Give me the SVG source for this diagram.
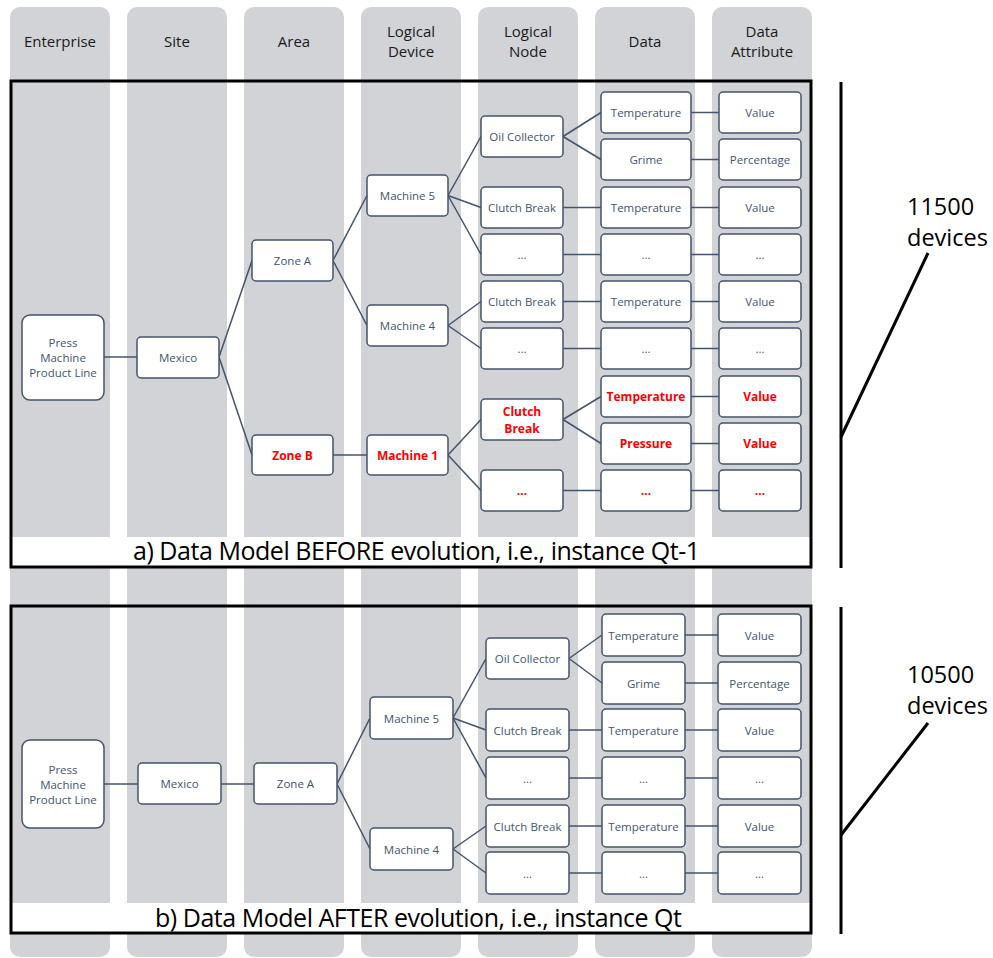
<svg xmlns="http://www.w3.org/2000/svg" width="993" height="958" viewBox="0 0 993 958">
<style>
.lane{fill:#D1D3D7}
.hdr{font-family:"Open Sans","Liberation Sans",sans-serif;font-size:15px;fill:#1a1a1a;text-anchor:middle}
.node rect{fill:#fff;stroke:#44546A;stroke-width:1.5}
.node text{font-family:"Open Sans","Liberation Sans",sans-serif;font-size:11.5px;fill:#44546A;text-anchor:middle;dominant-baseline:central}
.node text.red{fill:#FF0000;font-weight:bold;font-size:12px}
.conn line{stroke:#44546A;stroke-width:1.5}
.frame{fill:none;stroke:#000;stroke-width:3}
.cap{font-family:"Open Sans","Liberation Sans",sans-serif;font-size:25px;fill:#000}
.big{font-family:"Open Sans","Liberation Sans",sans-serif;font-size:23.5px;fill:#000}
.brk{stroke:#000;stroke-width:3;fill:none}
</style>
<rect width="993" height="958" fill="#fff"/>
<g id="lanes">
<rect class="lane" x="10" y="7" width="100" height="950" rx="10"/>
<rect class="lane" x="127" y="7" width="100" height="950" rx="10"/>
<rect class="lane" x="244" y="7" width="100" height="950" rx="10"/>
<rect class="lane" x="361" y="7" width="100" height="950" rx="10"/>
<rect class="lane" x="478" y="7" width="100" height="950" rx="10"/>
<rect class="lane" x="595" y="7" width="100" height="950" rx="10"/>
<rect class="lane" x="712" y="7" width="100" height="950" rx="10"/>
</g>
<g id="headers">
<text class="hdr" x="60" y="47">Enterprise</text>
<text class="hdr" x="177" y="47">Site</text>
<text class="hdr" x="294" y="47">Area</text>
<text class="hdr" x="411" y="37">Logical</text>
<text class="hdr" x="411" y="57">Device</text>
<text class="hdr" x="528" y="37">Logical</text>
<text class="hdr" x="528" y="57">Node</text>
<text class="hdr" x="645" y="47">Data</text>
<text class="hdr" x="762" y="37">Data</text>
<text class="hdr" x="762" y="57">Attribute</text>
</g>
<g id="frameA">
<rect x="12" y="537" width="798" height="29" fill="#fff"/>
<rect class="frame" x="11" y="81" width="800" height="486"/>
<text class="cap" x="133" y="560" textLength="567">a) Data Model BEFORE evolution, i.e., instance Qt-1</text>
</g>
<g id="frameB">
<rect x="12" y="903" width="798" height="29" fill="#fff"/>
<rect class="frame" x="11" y="606" width="800" height="327"/>
<text class="cap" x="155" y="927" textLength="527">b) Data Model AFTER evolution, i.e., instance Qt</text>
</g>
<g id="connectors" class="conn">
<line x1="104" y1="357" x2="137" y2="357"/>
<line x1="219" y1="357" x2="252" y2="260.5"/>
<line x1="219" y1="357" x2="252" y2="455"/>
<line x1="333" y1="260.5" x2="367" y2="195.5"/>
<line x1="333" y1="260.5" x2="367" y2="325.5"/>
<line x1="333" y1="455" x2="367" y2="455"/>
<line x1="448" y1="195.5" x2="481" y2="136.5"/>
<line x1="448" y1="195.5" x2="481" y2="207.5"/>
<line x1="448" y1="195.5" x2="481" y2="254.5"/>
<line x1="448" y1="325.5" x2="481" y2="301.5"/>
<line x1="448" y1="325.5" x2="481" y2="348.5"/>
<line x1="448" y1="455" x2="481" y2="419.5"/>
<line x1="448" y1="455" x2="481" y2="490.5"/>
<line x1="563" y1="136.5" x2="601" y2="112.5"/>
<line x1="563" y1="136.5" x2="601" y2="159.5"/>
<line x1="563" y1="207.5" x2="601" y2="207.5"/>
<line x1="563" y1="254.5" x2="601" y2="254.5"/>
<line x1="563" y1="301.5" x2="601" y2="301.5"/>
<line x1="563" y1="348.5" x2="601" y2="348.5"/>
<line x1="563" y1="419.5" x2="601" y2="396.5"/>
<line x1="563" y1="419.5" x2="601" y2="443.5"/>
<line x1="563" y1="490.5" x2="601" y2="490.5"/>
<line x1="691" y1="112.5" x2="719" y2="112.5"/>
<line x1="691" y1="159.5" x2="719" y2="159.5"/>
<line x1="691" y1="207.5" x2="719" y2="207.5"/>
<line x1="691" y1="254.5" x2="719" y2="254.5"/>
<line x1="691" y1="301.5" x2="719" y2="301.5"/>
<line x1="691" y1="348.5" x2="719" y2="348.5"/>
<line x1="691" y1="396.5" x2="719" y2="396.5"/>
<line x1="691" y1="443.5" x2="719" y2="443.5"/>
<line x1="691" y1="490.5" x2="719" y2="490.5"/>
<line x1="104" y1="784" x2="138" y2="784"/>
<line x1="221" y1="784" x2="254" y2="784"/>
<line x1="337" y1="784" x2="370" y2="718"/>
<line x1="337" y1="784" x2="370" y2="849"/>
<line x1="453" y1="718" x2="486" y2="658.5"/>
<line x1="453" y1="718" x2="486" y2="730"/>
<line x1="453" y1="718" x2="486" y2="778"/>
<line x1="453" y1="849" x2="486" y2="826"/>
<line x1="453" y1="849" x2="486" y2="873"/>
<line x1="569" y1="658.5" x2="602" y2="635"/>
<line x1="569" y1="658.5" x2="602" y2="683"/>
<line x1="569" y1="730" x2="602" y2="730"/>
<line x1="569" y1="778" x2="602" y2="778"/>
<line x1="569" y1="826" x2="602" y2="826"/>
<line x1="569" y1="873" x2="602" y2="873"/>
<line x1="685" y1="635" x2="718" y2="635"/>
<line x1="685" y1="683" x2="718" y2="683"/>
<line x1="685" y1="730" x2="718" y2="730"/>
<line x1="685" y1="778" x2="718" y2="778"/>
<line x1="685" y1="826" x2="718" y2="826"/>
<line x1="685" y1="873" x2="718" y2="873"/>
</g>
<g id="a-press" class="node"><rect x="22" y="315" width="82" height="85" rx="8"/><text x="63" y="342">Press</text><text x="63" y="357">Machine</text><text x="63" y="372">Product Line</text></g>
<g id="a-mexico" class="node"><rect x="137" y="337" width="82" height="41" rx="4"/><text x="178" y="357.5">Mexico</text></g>
<g id="a-zoneA" class="node"><rect x="252" y="240" width="81" height="41" rx="4"/><text x="292.5" y="260.5">Zone A</text></g>
<g id="a-zoneB" class="node"><rect x="252" y="435" width="81" height="40" rx="4"/><text class="red" x="292.5" y="455">Zone B</text></g>
<g id="a-m5" class="node"><rect x="367" y="175" width="81" height="41" rx="4"/><text x="407.5" y="195.5">Machine 5</text></g>
<g id="a-m4" class="node"><rect x="367" y="305" width="81" height="41" rx="4"/><text x="407.5" y="325.5">Machine 4</text></g>
<g id="a-m1" class="node"><rect x="367" y="435" width="81" height="40" rx="4"/><text class="red" x="407.5" y="455">Machine 1</text></g>
<g id="a-ln1" class="node"><rect x="481" y="116" width="82" height="41" rx="4"/><text x="522" y="136.5">Oil Collector</text></g>
<g id="a-ln2" class="node"><rect x="481" y="187" width="82" height="41" rx="4"/><text x="522" y="207.5">Clutch Break</text></g>
<g id="a-ln3" class="node"><rect x="481" y="234" width="82" height="41" rx="4"/><text x="522" y="254.5">...</text></g>
<g id="a-ln4" class="node"><rect x="481" y="281" width="82" height="41" rx="4"/><text x="522" y="301.5">Clutch Break</text></g>
<g id="a-ln5" class="node"><rect x="481" y="328" width="82" height="41" rx="4"/><text x="522" y="348.5">...</text></g>
<g id="a-ln6" class="node"><rect x="481" y="399" width="82" height="41" rx="4"/><text class="red" x="522" y="411">Clutch</text><text class="red" x="522" y="428">Break</text></g>
<g id="a-ln7" class="node"><rect x="481" y="470" width="82" height="41" rx="4"/><text class="red" x="522" y="490.5">...</text></g>
<g id="a-d1" class="node"><rect x="601" y="92" width="90" height="41" rx="4"/><text x="646" y="112.5">Temperature</text></g>
<g id="a-d2" class="node"><rect x="601" y="139" width="90" height="41" rx="4"/><text x="646" y="159.5">Grime</text></g>
<g id="a-d3" class="node"><rect x="601" y="187" width="90" height="41" rx="4"/><text x="646" y="207.5">Temperature</text></g>
<g id="a-d4" class="node"><rect x="601" y="234" width="90" height="41" rx="4"/><text x="646" y="254.5">...</text></g>
<g id="a-d5" class="node"><rect x="601" y="281" width="90" height="41" rx="4"/><text x="646" y="301.5">Temperature</text></g>
<g id="a-d6" class="node"><rect x="601" y="328" width="90" height="41" rx="4"/><text x="646" y="348.5">...</text></g>
<g id="a-d7" class="node"><rect x="601" y="376" width="90" height="41" rx="4"/><text class="red" x="646" y="396.5">Temperature</text></g>
<g id="a-d8" class="node"><rect x="601" y="423" width="90" height="41" rx="4"/><text class="red" x="646" y="443.5">Pressure</text></g>
<g id="a-d9" class="node"><rect x="601" y="470" width="90" height="41" rx="4"/><text class="red" x="646" y="490.5">...</text></g>
<g id="a-a1" class="node"><rect x="719" y="92" width="82" height="41" rx="4"/><text x="760" y="112.5">Value</text></g>
<g id="a-a2" class="node"><rect x="719" y="139" width="82" height="41" rx="4"/><text x="760" y="159.5">Percentage</text></g>
<g id="a-a3" class="node"><rect x="719" y="187" width="82" height="41" rx="4"/><text x="760" y="207.5">Value</text></g>
<g id="a-a4" class="node"><rect x="719" y="234" width="82" height="41" rx="4"/><text x="760" y="254.5">...</text></g>
<g id="a-a5" class="node"><rect x="719" y="281" width="82" height="41" rx="4"/><text x="760" y="301.5">Value</text></g>
<g id="a-a6" class="node"><rect x="719" y="328" width="82" height="41" rx="4"/><text x="760" y="348.5">...</text></g>
<g id="a-a7" class="node"><rect x="719" y="376" width="82" height="41" rx="4"/><text class="red" x="760" y="396.5">Value</text></g>
<g id="a-a8" class="node"><rect x="719" y="423" width="82" height="41" rx="4"/><text class="red" x="760" y="443.5">Value</text></g>
<g id="a-a9" class="node"><rect x="719" y="470" width="82" height="41" rx="4"/><text class="red" x="760" y="490.5">...</text></g>
<g id="b-press" class="node"><rect x="22" y="740" width="82" height="88" rx="8"/><text x="63" y="769">Press</text><text x="63" y="784">Machine</text><text x="63" y="799">Product Line</text></g>
<g id="b-mexico" class="node"><rect x="138" y="763" width="83" height="41" rx="4"/><text x="179.5" y="783.5">Mexico</text></g>
<g id="b-zoneA" class="node"><rect x="254" y="763" width="83" height="41" rx="4"/><text x="295.5" y="783.5">Zone A</text></g>
<g id="b-m5" class="node"><rect x="370" y="697" width="83" height="42" rx="4"/><text x="411.5" y="718">Machine 5</text></g>
<g id="b-m4" class="node"><rect x="370" y="828" width="83" height="42" rx="4"/><text x="411.5" y="849">Machine 4</text></g>
<g id="b-ln1" class="node"><rect x="486" y="638" width="83" height="41" rx="4"/><text x="527.5" y="658.5">Oil Collector</text></g>
<g id="b-ln2" class="node"><rect x="486" y="709" width="83" height="42" rx="4"/><text x="527.5" y="730">Clutch Break</text></g>
<g id="b-ln3" class="node"><rect x="486" y="757" width="83" height="42" rx="4"/><text x="527.5" y="778">...</text></g>
<g id="b-ln4" class="node"><rect x="486" y="805" width="83" height="42" rx="4"/><text x="527.5" y="826">Clutch Break</text></g>
<g id="b-ln5" class="node"><rect x="486" y="852" width="83" height="42" rx="4"/><text x="527.5" y="873">...</text></g>
<g id="b-d1" class="node"><rect x="602" y="614" width="83" height="42" rx="4"/><text x="643.5" y="635">Temperature</text></g>
<g id="b-d2" class="node"><rect x="602" y="662" width="83" height="42" rx="4"/><text x="643.5" y="683">Grime</text></g>
<g id="b-d3" class="node"><rect x="602" y="709" width="83" height="42" rx="4"/><text x="643.5" y="730">Temperature</text></g>
<g id="b-d4" class="node"><rect x="602" y="757" width="83" height="42" rx="4"/><text x="643.5" y="778">...</text></g>
<g id="b-d5" class="node"><rect x="602" y="805" width="83" height="42" rx="4"/><text x="643.5" y="826">Temperature</text></g>
<g id="b-d6" class="node"><rect x="602" y="852" width="83" height="42" rx="4"/><text x="643.5" y="873">...</text></g>
<g id="b-a1" class="node"><rect x="718" y="614" width="83" height="42" rx="4"/><text x="759.5" y="635">Value</text></g>
<g id="b-a2" class="node"><rect x="718" y="662" width="83" height="42" rx="4"/><text x="759.5" y="683">Percentage</text></g>
<g id="b-a3" class="node"><rect x="718" y="709" width="83" height="42" rx="4"/><text x="759.5" y="730">Value</text></g>
<g id="b-a4" class="node"><rect x="718" y="757" width="83" height="42" rx="4"/><text x="759.5" y="778">...</text></g>
<g id="b-a5" class="node"><rect x="718" y="805" width="83" height="42" rx="4"/><text x="759.5" y="826">Value</text></g>
<g id="b-a6" class="node"><rect x="718" y="852" width="83" height="42" rx="4"/><text x="759.5" y="873">...</text></g>
<g id="countA">
<line class="brk" x1="841" y1="82" x2="841" y2="568"/>
<line class="brk" x1="841" y1="437" x2="928" y2="253"/>
<text class="big" x="907" y="215">11500</text>
<text class="big" x="907" y="246">devices</text>
</g>
<g id="countB">
<line class="brk" x1="841" y1="607" x2="841" y2="934"/>
<line class="brk" x1="841" y1="835" x2="928" y2="723"/>
<text class="big" x="907" y="683">10500</text>
<text class="big" x="907" y="714">devices</text>
</g>
</svg>
